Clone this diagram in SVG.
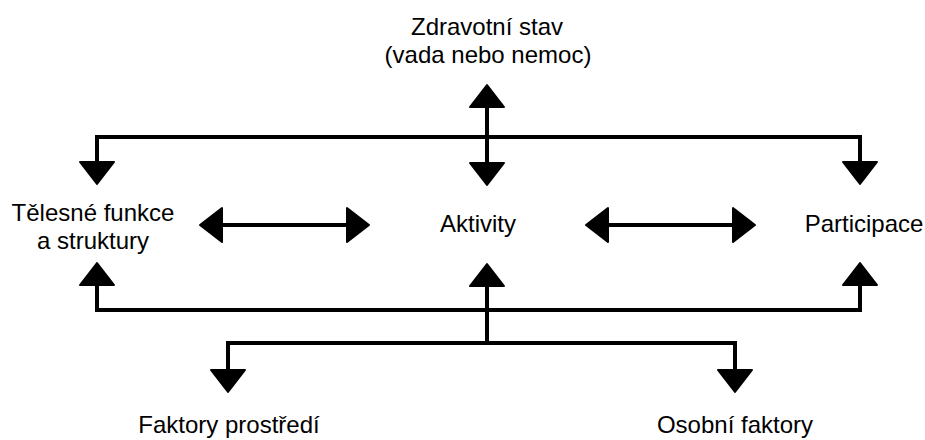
<svg xmlns="http://www.w3.org/2000/svg" width="925" height="440" viewBox="0 0 925 440">
<style>
text{font-family:"Liberation Sans",Arial,sans-serif;font-size:24px;fill:#000;text-anchor:middle}
.ln{stroke:#000;stroke-width:4;fill:none}
.hd{fill:#000;stroke:#000;stroke-width:2;stroke-linejoin:round}
</style>
<defs>
<polygon id="down" class="hd" points="-17,0 17,0 0,22"/>
<polygon id="up" class="hd" points="-17,0 17,0 0,-22"/>
<polygon id="left" class="hd" points="0,-17 0,17 -22,0"/>
<polygon id="right" class="hd" points="0,-17 0,17 22,0"/>
</defs>
<rect width="925" height="440" fill="#fff"/>
<g id="zdravotni-stav">
<text x="487" y="35">Zdravotní stav</text>
<text x="488" y="63">(vada nebo nemoc)</text>
</g>
<g id="telesne-funkce">
<text x="93" y="221">Tělesné funkce</text>
<text x="93" y="249">a struktury</text>
</g>
<g id="aktivity"><text x="478" y="232">Aktivity</text></g>
<g id="participace"><text x="864" y="232">Participace</text></g>
<g id="faktory-prostredi"><text x="229" y="433">Faktory prostředí</text></g>
<g id="osobni-faktory"><text x="735" y="433">Osobní faktory</text></g>
<g id="connectors">
<path class="ln" d="M487,106 V164"/>
<use href="#up" x="487" y="107"/>
<use href="#down" x="487" y="163"/>
<path class="ln" d="M97,163 V137 H860 V163"/>
<use href="#down" x="97" y="162"/>
<use href="#down" x="860" y="162"/>
<path class="ln" d="M221,225 H348"/>
<use href="#left" x="222" y="225"/>
<use href="#right" x="347" y="225"/>
<path class="ln" d="M607,225 H734"/>
<use href="#left" x="608" y="225"/>
<use href="#right" x="733" y="225"/>
<path class="ln" d="M97,284 V310 H860 V284"/>
<use href="#up" x="97" y="285"/>
<use href="#up" x="860" y="285"/>
<path class="ln" d="M487,284 V343"/>
<use href="#up" x="487" y="286"/>
<path class="ln" d="M228,371 V343 H735 V371"/>
<use href="#down" x="228" y="370"/>
<use href="#down" x="735" y="370"/>
</g>
</svg>
